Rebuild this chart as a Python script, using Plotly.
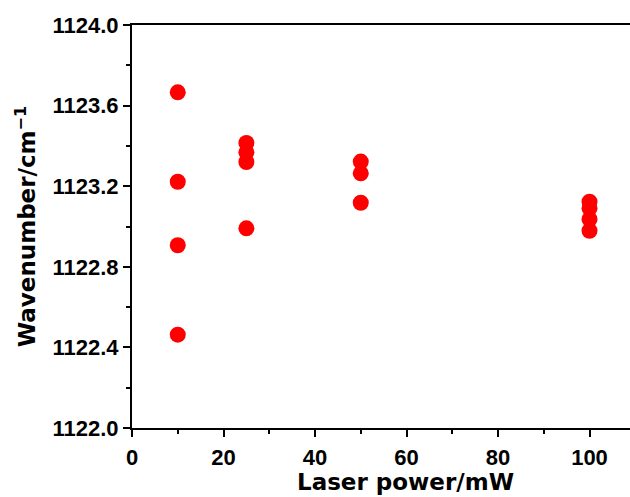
import plotly.graph_objects as go

power_mw = [10, 10, 10, 10, 25, 25, 25, 25, 50, 50, 50, 100, 100, 100, 100]
wavenumber = [1123.666, 1123.222, 1122.907, 1122.463,
              1123.415, 1123.368, 1123.32, 1122.991,
              1123.322, 1123.264, 1123.118,
              1123.123, 1123.09, 1123.036, 1122.979]

x_ticks = [0, 20, 40, 60, 80, 100]
x_tick_text = ["0", "20", "40", "60", "80", "100"]
y_ticks = [1122.0, 1122.4, 1122.8, 1123.2, 1123.6, 1124.0]
y_tick_text = ["1122.0", "1122.4", "1122.8", "1123.2", "1123.6", "1124.0"]

x_title = "Laser power/mW"
y_title = "Wavenumber/cm<sup>\u22121</sup>"

FONT = "DejaVu Sans"
TICKFONT = "Liberation Sans, Arial, sans-serif"

fig = go.Figure()
fig.add_trace(go.Scatter(
    x=power_mw, y=wavenumber, mode="markers",
    marker=dict(color="#ff0000", size=16, line=dict(width=0)),
    showlegend=False,
))

fig.update_layout(
    width=630, height=497,
    margin=dict(l=132, r=0, t=25, b=69),
    paper_bgcolor="white", plot_bgcolor="white",
    font=dict(family=FONT, color="black"),
)

fig.update_xaxes(
    range=[0, 108.85], tickvals=x_ticks, ticktext=["<b>%s</b>" % t for t in x_tick_text],
    showgrid=False, zeroline=False,
    showline=True, linecolor="black", linewidth=2, mirror=True,
    ticks="outside", ticklen=7, tickwidth=2, tickcolor="black",
    tickfont=dict(family=TICKFONT, size=22, color="black", weight="bold"),
    ticklabelstandoff=2,
    minor=dict(dtick=10, tick0=0, ticks="outside", ticklen=4, tickwidth=2, tickcolor="black"),
)

fig.update_yaxes(
    range=[1122.0, 1124.0], tickvals=y_ticks, ticktext=["<b>%s</b>" % t for t in y_tick_text],
    showgrid=False, zeroline=False,
    showline=True, linecolor="black", linewidth=2, mirror=False,
    ticks="outside", ticklen=7, tickwidth=2, tickcolor="black",
    tickfont=dict(family=TICKFONT, size=22, color="black"),
    minor=dict(dtick=0.2, tick0=1122.0, ticks="outside", ticklen=4, tickwidth=2, tickcolor="black"),
    title=dict(text="<b>%s</b>" % y_title, font=dict(family=FONT, size=23, color="black"), standoff=10),
)

fig.add_annotation(
    text="<b>%s</b>" % x_title, x=59.8, xref="x", y=0, yref="paper",
    xanchor="center", yanchor="middle", yshift=-54, showarrow=False,
    font=dict(family=FONT, size=23, color="black"),
)

fig.write_html("out.html")
